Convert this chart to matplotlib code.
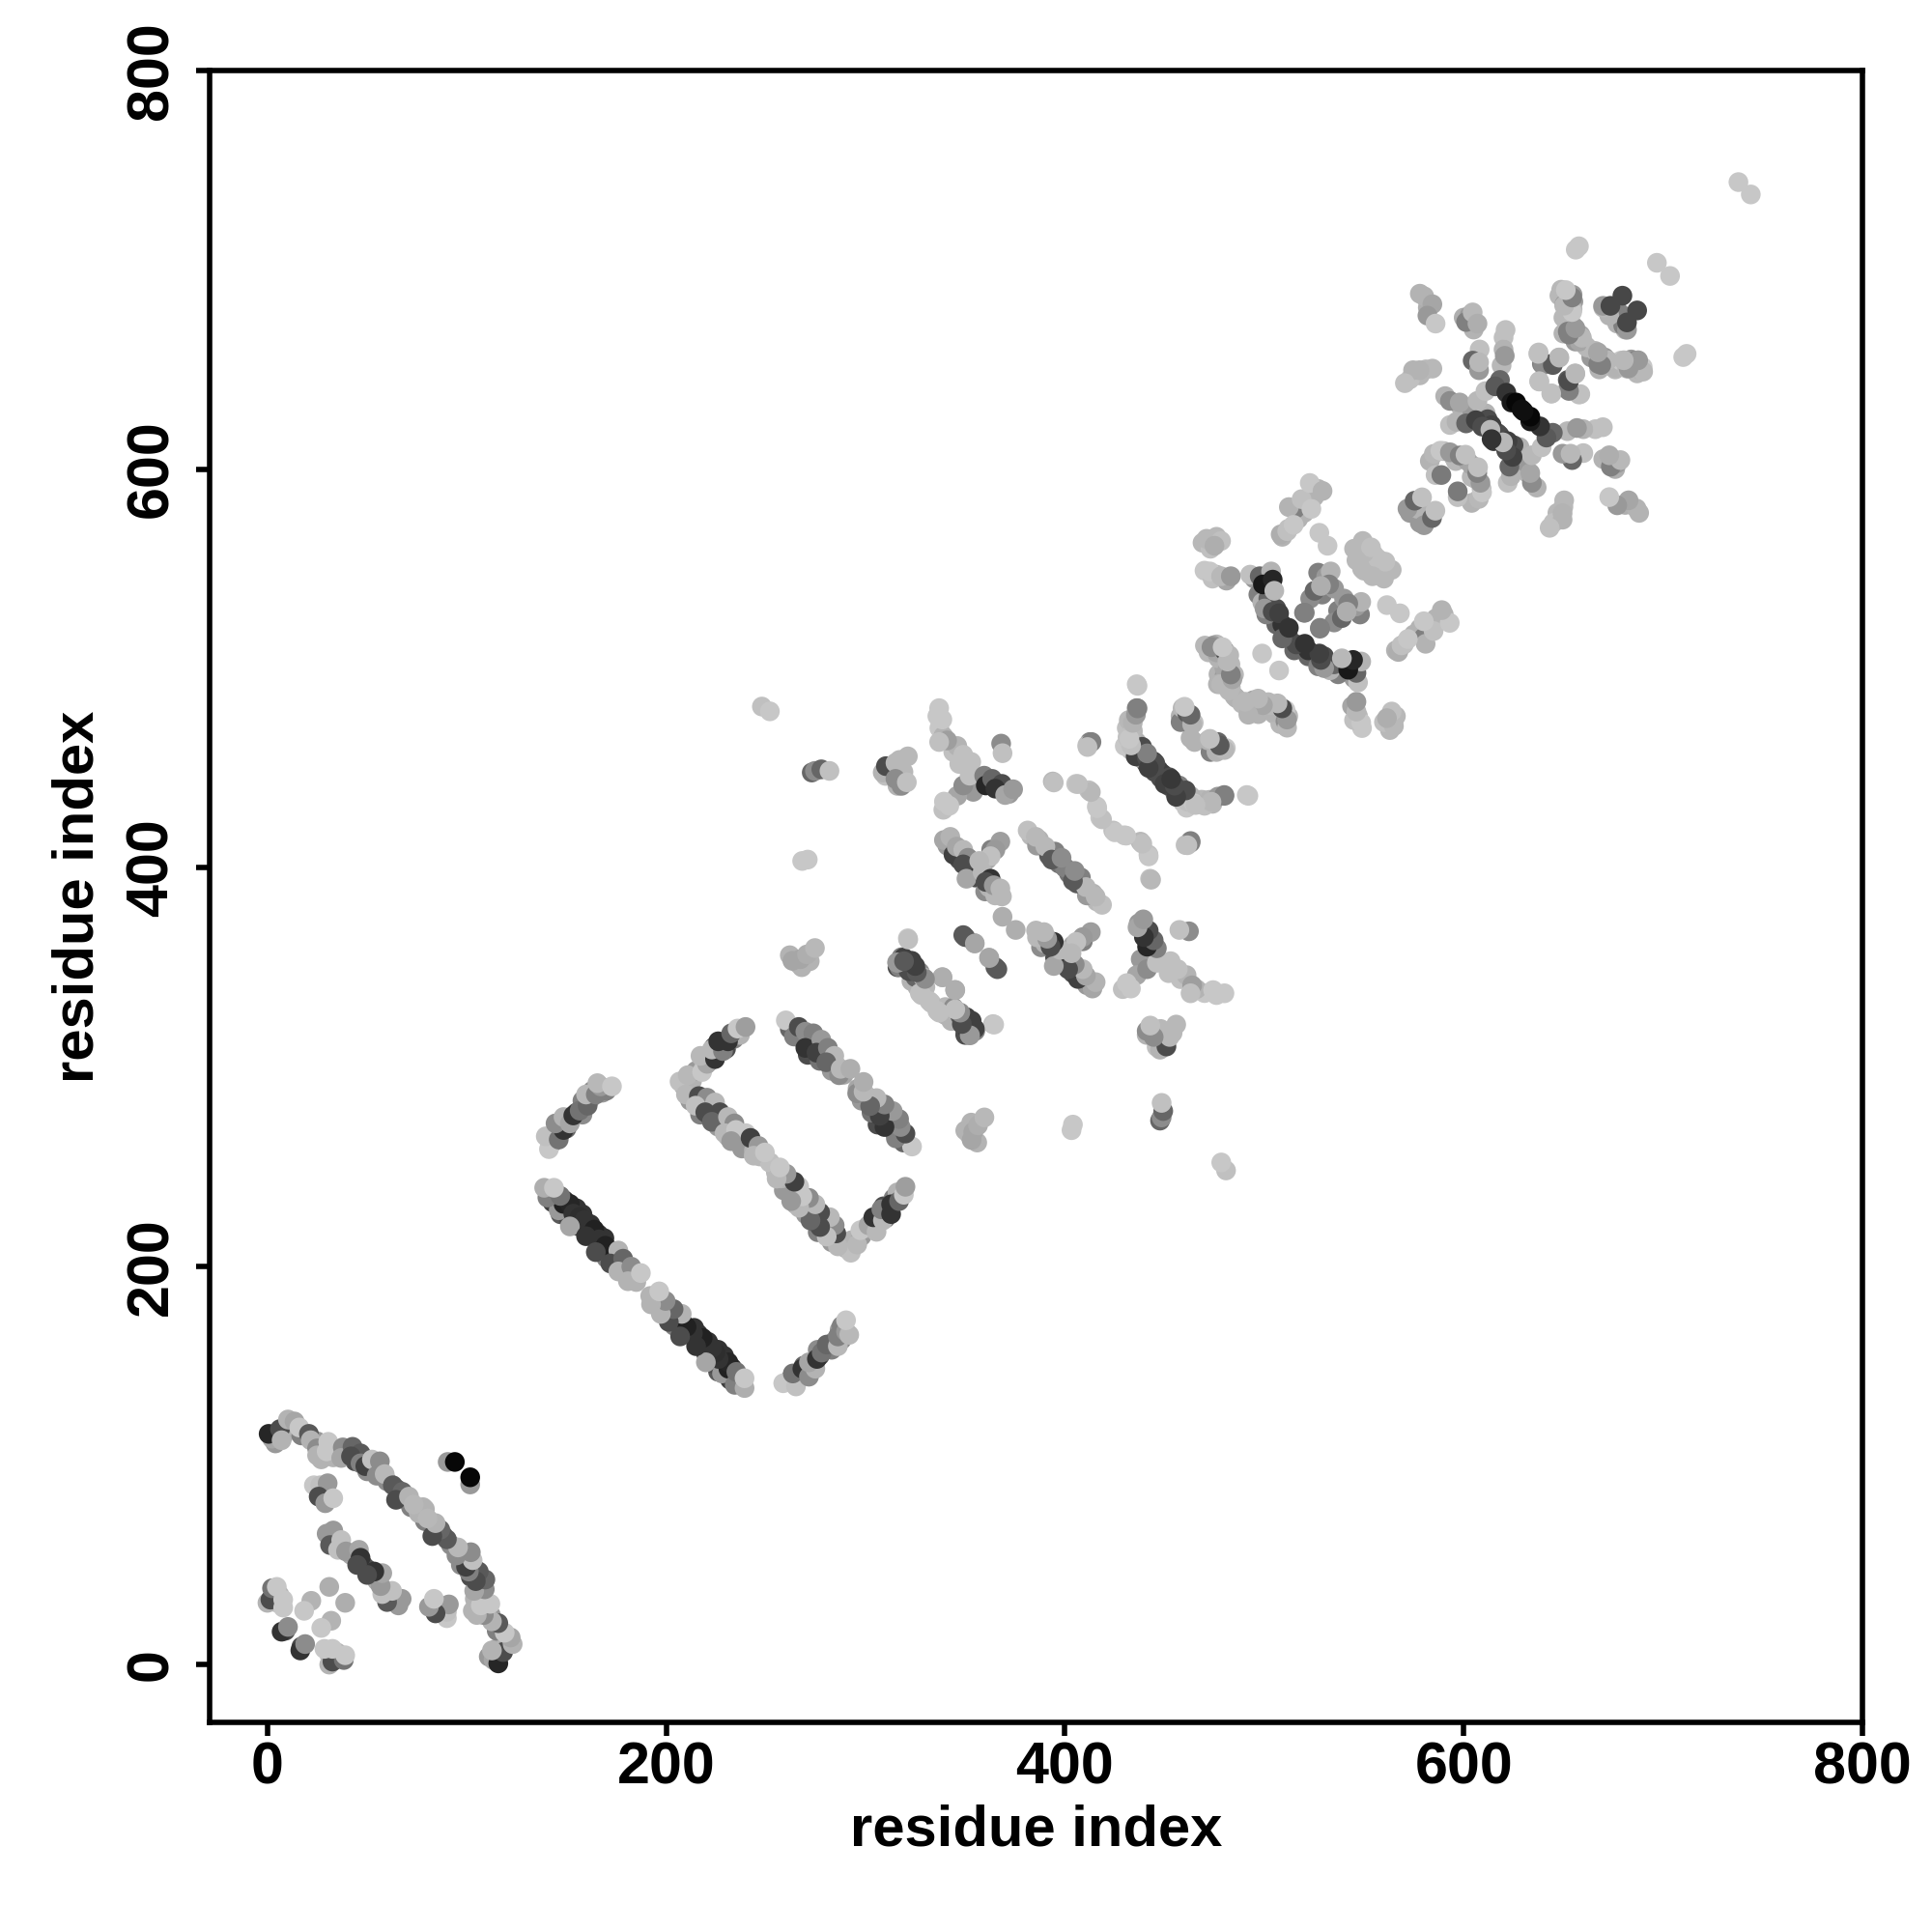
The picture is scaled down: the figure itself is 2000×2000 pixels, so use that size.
"""Residue contact map, drawn from the upper triangle and mirrored."""

import matplotlib

matplotlib.use("Agg")
import matplotlib.pyplot as plt  # noqa: E402

plt.rcParams["font.family"] = ["Liberation Sans", "DejaVu Sans"]

TICKS = [0, 200, 400, 600, 800]
AXIS_LABEL = "residue index"

# i < j contacts, shade is the grey level of the dot (0 black, 1 white)
n_term_i = [2.3, 0.6, 6.3, 7.1, 10.3, 13.6, 16, 20.8, 21.7, 24.9, 24.9, 30.5, 29.7, 37.8, 37, 42.7, 46.7, 41.9, 46.7,
            49.1, 52.4, 56.4, 54.8, 58.8, 62.9, 67.7, 64.5, 71, 73.4,
            23.3, 26.5, 30.2, 25.7, 29, 33,
            29.7, 33, 31.4, 37, 35.4, 39.4, 45.9, 46.7, 45,
            0, 1.5, 2.3, 4.7, 7.9, 7.9, 7.1, 10.3, 22, 18.4, 31, 90.4, 94]
n_term_j = [113.4, 115.8, 118.2, 112.6, 123, 122, 119, 115.8, 112.6, 108.5, 105, 111.8, 107, 109, 103.7, 109.3, 106,
            104.5, 101, 99.6, 102.9, 102, 94.8, 95.6, 90, 86.7, 82.7, 84.3, 80.3,
            90, 90, 91, 84.3, 81, 83.5,
            65.7, 67.3, 60, 62.5, 57.6, 56.8, 57.6, 53.6, 50,
            31, 32.6, 38.3, 39, 32.6, 28.6, 16.5, 18.9, 32, 27, 39, 101.7, 101.7]
n_term_shade = [0.65, 0.15, 0.3, 0.7, 0.7, 0.65, 0.78, 0.35, 0.7, 0.55, 0.7, 0.78, 0.78, 0.55, 0.65, 0.4, 0.35, 0.3,
                0.5, 0.25, 0.75, 0.55, 0.55, 0.72, 0.35, 0.4, 0.3, 0.7, 0.72,
                0.78, 0.75, 0.6, 0.3, 0.6, 0.78,
                0.6, 0.6, 0.35, 0.75, 0.75, 0.6, 0.65, 0.2, 0.3,
                0.7, 0.3, 0.45, 0.78, 0.78, 0.78, 0.2, 0.55, 0.7, 0.78, 0.68, 0.6, 0.03]

stripe_a_i = [146.1, 148.5, 151.7, 140.4, 146.9, 153.4, 156.6, 159, 151.7, 163.9, 159.8, 166.3, 169.5, 164.7, 176, 172,
              178.4, 176, 182.5, 180.8, 138.8, 143.7, 187.3]
stripe_a_j = [228, 231.2, 231.2, 234.4, 235.2, 226.3, 224.7, 223.1, 219.9, 218.3, 215, 213.4, 210.2, 207, 207.8,
              201.3, 203.7, 197.3, 199.7, 192.4, 239.3, 239.3, 196.5]
stripe_a_shade = [0.6, 0.13, 0.15, 0.5, 0.45, 0.2, 0.18, 0.2, 0.65, 0.13, 0.2, 0.2, 0.13, 0.3, 0.7, 0.3, 0.4, 0.7,
                  0.55, 0.7, 0.68, 0.78, 0.78]

stripe_b_i = [141.2, 139.6, 146.1, 148.5, 144.5, 148.5, 151.7, 153.4, 156.6, 160.6, 159.8, 164.7, 167.1, 165.5, 172.8]
stripe_b_j = [258.7, 265.1, 263.5, 268.3, 271.6, 274.8, 271.6, 275.6, 278, 280.5, 286.1, 286.1, 290.2, 291.8, 290.2]
stripe_b_shade = [0.78, 0.75, 0.45, 0.2, 0.55, 0.7, 0.65, 0.2, 0.45, 0.4, 0.72, 0.5, 0.6, 0.72, 0.78]

stripe_c_i = [206.7, 210.8, 218, 220.5, 217.2, 224.5, 222.9, 228.5, 226.1, 231, 232.6, 235.8, 239.8]
stripe_c_j = [292.6, 295.8, 297.4, 301.5, 305.5, 303.9, 308.7, 307.9, 312.8, 312.8, 316.8, 319.2, 320]
stripe_c_shade = [0.75, 0.72, 0.78, 0.65, 0.72, 0.2, 0.72, 0.5, 0.2, 0.2, 0.4, 0.78, 0.62]

stripe_d_i = [260, 264.1, 266.5, 269.8, 273.8, 269.8, 277.8, 275.4, 281.1, 284.3, 280.3, 286.7, 287.5, 292.4]
stripe_d_j = [323.3, 315.2, 320, 317.6, 316.8, 309.5, 313.6, 307.1, 309.5, 305.5, 302.3, 295.8, 299, 299]
stripe_d_shade = [0.78, 0.5, 0.3, 0.55, 0.5, 0.2, 0.6, 0.25, 0.5, 0.72, 0.4, 0.55, 0.72, 0.68]

stripe_e_i = [209.9, 216.4, 220.5, 214.8, 224.5, 219.6, 226.9, 222.9, 231, 234.2, 229.3, 235, 239.9, 232.6, 242.3,
              246.3, 243.9, 249.5]
stripe_e_j = [286.1, 285.3, 284.5, 280.5, 282.1, 277.2, 277.2, 272.4, 274.8, 271.6, 266.7, 268.3, 266.7, 262.7,
              264.3, 260.3, 255.4, 257]
stripe_e_shade = [0.72, 0.3, 0.55, 0.75, 0.72, 0.3, 0.3, 0.4, 0.72, 0.55, 0.72, 0.78, 0.78, 0.6, 0.25, 0.6, 0.72, 0.78]

middle_i = [248, 252, 273, 274.6, 277.8, 281.9, 308.6, 310.2, 315, 321.2, 315, 320.7, 268.2, 271, 263.3, 267.3, 270.6,
            274.6,
            336.9, 338.5, 340.9, 336.9, 349, 368, 368.7, 339.3, 349, 352.2, 359.5, 360.3, 363.5, 368.4, 365.1, 370, 374,
            393.9, 405.6, 412, 416, 417.7, 424.2, 429.8, 437.9, 441.9, 442.7, 463, 460.5, 412.5, 411.2,
            339.3, 342.5, 344.1, 345.7, 349, 351.4, 349, 367.6, 365.1, 362.7, 357, 350.6, 358.7, 362.7, 360.3, 364.3,
            367.6, 368.4,
            381.3, 385.4, 390.2, 393.4, 398.3, 368.7,
            321.2, 319.1, 323.1, 315.8, 321.5, 327.2, 328.8, 338.5, 344.9, 327.2, 336, 344.1, 347.4, 350.6, 352.2, 353,
            363.9, 349, 354.6, 365.1, 361.9]
middle_j = [480.8, 478.4, 447.7, 448.5, 449.3, 448.5, 447.7, 450.9, 452.5, 455.8, 444.5, 442.8, 403.3, 404, 353.2, 354,
            356.4, 359.6,
            480, 474.3, 463.8, 463, 456.6, 462.2, 457.4, 433.1, 441.2, 446.1, 446.1, 441.2, 444.5, 442, 439.6, 436.4,
            439.3,
            443.2, 442, 438.8, 430.7, 425, 418.6, 416.2, 413, 406.5, 394.4, 413.3, 411.3, 463, 461.4,
            413.8, 415.4, 406.5, 410.5, 408.9, 404.9, 401.6, 413, 408.9, 405.7, 403.3, 394.4, 397.6, 394.4, 392.8, 391.1,
            389.5, 385.5,
            418.6, 415.4, 410.5, 404, 404.9, 375.3,
            364.5, 354.8, 353.2, 352.4, 348.3, 347.5, 345, 345, 338.6, 337, 328.1, 329.8, 325.7, 324.9, 316, 319.3,
            321.4, 366.1, 362.1, 350, 354.8]
middle_shade = [0.75, 0.78, 0.4, 0.55, 0.4, 0.75, 0.7, 0.3, 0.72, 0.72, 0.55, 0.75, 0.78, 0.78, 0.65, 0.65, 0.68, 0.72,
                0.78, 0.78, 0.62, 0.75, 0.75, 0.55, 0.75, 0.78, 0.55, 0.75, 0.5, 0.15, 0.4, 0.3, 0.2, 0.65, 0.6,
                0.72, 0.78, 0.75, 0.78, 0.78, 0.75, 0.78, 0.72, 0.75, 0.75, 0.5, 0.75, 0.5, 0.75,
                0.65, 0.7, 0.25, 0.65, 0.72, 0.55, 0.3, 0.62, 0.6, 0.75, 0.72, 0.65, 0.72, 0.2, 0.3, 0.6, 0.72, 0.72,
                0.75, 0.72, 0.72, 0.35, 0.55, 0.68,
                0.78, 0.25, 0.25, 0.6, 0.3, 0.55, 0.75, 0.68, 0.68, 0.75, 0.75, 0.55, 0.35, 0.25, 0.6, 0.35,
                0.75, 0.35, 0.65, 0.35, 0.65]

upper_i = [436, 436, 433, 431.4, 438.7, 435.5, 441.1, 444.4, 452.4, 450, 457.3, 461.3, 464.6, 472.6, 476.7, 479.9, 491.2,
           459, 461.3, 464.6, 471.8, 476.7, 480.7,
           471.8, 478.3, 475, 472.7, 478.3, 483.2,
           492.9, 497.7, 503.4, 499.3, 504.2, 505, 500.1, 504.2, 507.4, 512.3, 519.9, 527.9,
           515.5, 512.3, 508.2, 511.5, 514.7, 518.7, 523.6, 522.8, 529.2, 527.6, 531.7,
           549.4, 553.5, 546.2, 533.3, 532.5, 525.2, 528.4,
           470.2, 474.3, 479.9, 482.4, 481.5, 484.8, 476.7, 483.2, 488.8, 492, 494.5, 496.9, 503.4, 510.6, 510.6, 510.6,
           498.9]
upper_j = [492, 480, 473.5, 465.5, 460.6, 455.8, 455, 453.3, 445.3, 442, 441.2, 433.2, 432.3, 434, 435.6, 436.4, 436.4,
           480, 477.6, 472.7, 463.8, 463, 460,
           564.7, 563.9, 561.5, 548.6, 546.2, 546.2,
           547, 546.2, 548.6, 542.1, 544.5, 538.9, 530, 528.4, 527.6, 520.3, 527.9, 520.3,
           580, 580.9, 567.2, 568.8, 572, 584.9, 580, 593, 589, 568, 561.5,
           563.9, 560.7, 554.2, 548.6, 542.1, 538.9, 541.3,
           511.4, 511.4, 509, 506.6, 499.3, 496.9, 492, 490.4, 482.3, 478.3, 484, 483.2, 481.5, 471, 473.5, 479.1,
           507.4]
upper_shade = [0.78, 0.5, 0.72, 0.75, 0.3, 0.25, 0.3, 0.22, 0.3, 0.25, 0.5, 0.75, 0.78, 0.7, 0.6, 0.5, 0.78,
               0.72, 0.35, 0.75, 0.7, 0.4, 0.78,
               0.72, 0.75, 0.68, 0.78, 0.72, 0.6,
               0.75, 0.4, 0.7, 0.1, 0.15, 0.72, 0.6, 0.3, 0.25, 0.2, 0.5, 0.5,
               0.5, 0.7, 0.68, 0.75, 0.78, 0.75, 0.78, 0.78, 0.7, 0.78, 0.78,
               0.72, 0.75, 0.72, 0.7, 0.5, 0.4, 0.68,
               0.72, 0.6, 0.3, 0.72, 0.65, 0.72, 0.7, 0.72, 0.72, 0.72, 0.65, 0.5, 0.72, 0.72, 0.55, 0.78,
               0.78]

c_term_i = [737.8, 656.2, 657.8, 696.9, 669.9, 673.6, 679.6, 648.9, 654.6, 650.5, 654.6, 654.6, 652.2, 658.6,
            665.9, 667.5, 670.7, 678.8, 682, 686.1, 689.8,
            580.2, 584.3, 581.8, 585.9, 601.2, 604.5, 606.9, 621,
            604.5, 607.7, 607.7, 619, 620.6, 637.6, 639.2, 644.1, 647.8, 637.9, 652.2, 652.2, 655.9, 644.1, 657.8,
            584.3, 577.8, 574.6, 570.5,
            590.7, 593.1, 598, 606.9, 610.9, 618.2, 615.8, 621.4, 623.9, 626.3, 629,
            593.1, 596.4, 601.2, 606.1, 609.3, 613.4, 615,
            585, 588.3, 593.1, 598, 600.9, 585.9, 588.8, 571.8, 575.4, 579.1]
c_term_j = [744, 710.1, 711.8, 703.5, 681.9, 681.9, 687, 690, 687.5, 682.7, 680.3, 672.2, 669, 667.3,
            659.3, 652.8, 656, 654.4, 650.4, 654.4, 651.2,
            686.7, 682.7, 677, 673, 673.8, 678.6, 673, 669.8,
            654.4, 649.6, 653.6, 652, 656.8, 658.5, 652.8, 652.8, 656, 643.9, 639.9, 644.7, 648, 637.9, 637.4,
            650.4, 649.6, 649.6, 643.1,
            636.6, 634.2, 633.4, 634.2, 639.1, 644.7, 641.5, 638.3, 633.4, 633.4, 630,
            622.1, 623.7, 622.9, 624.5, 621.3, 619.7, 614,
            607.6, 609.2, 608.4, 606.8, 607.2, 597, 597, 580.1, 584.1, 585.8]
c_term_shade = [0.78, 0.78, 0.78, 0.78, 0.6, 0.28, 0.28, 0.72, 0.6, 0.6, 0.72, 0.72, 0.5, 0.65,
                0.72, 0.5, 0.6, 0.78, 0.72, 0.5, 0.78,
                0.7, 0.65, 0.6, 0.78, 0.5, 0.72, 0.68, 0.75,
                0.4, 0.6, 0.72, 0.72, 0.6, 0.75, 0.5, 0.3, 0.72, 0.75, 0.55, 0.35, 0.72, 0.75, 0.75,
                0.72, 0.7, 0.7, 0.75,
                0.7, 0.55, 0.65, 0.72, 0.75, 0.4, 0.35, 0.2, 0.1, 0.03, 0.06,
                0.75, 0.7, 0.4, 0.25, 0.3, 0.72, 0.2,
                0.72, 0.78, 0.6, 0.5, 0.75, 0.75, 0.48, 0.6, 0.4, 0.75]

# dots that sit mostly hidden under the ones above: (i, j, shade)
under_n_term = [(4, 111, .6), (8, 115, .65), (12, 120, .7), (17, 115, .5), (25, 112, .6), (27, 103, .7), (33, 104, .7),
                (39, 106, .4), (44, 102, .3), (48, 104, .35), (50, 97, .55), (56, 98, .6), (60, 92, .55), (65, 88, .35),
                (69, 83, .3), (72, 79, .5), (76, 76, .7), (79, 78, .7), (27, 88, .7), (28, 85, .55), (33, 62, .4),
                (36, 61, .7), (42, 55, .65), (48, 50, .3), (3, 35, .6), (5, 31, .75), (4, 36, .4), (6, 35, .7),
                (9, 17, .3)]
under_stripes = [(143, 232, .25), (149, 233, .2), (147, 226, .35), (155, 229, .2), (151, 224, .3), (158, 226, .2),
                 (156, 220, .25), (162, 221, .2), (160, 218, .3), (166, 216, .2), (164, 214, .25), (169, 214, .2),
                 (168, 208, .3), (172, 208, .25), (170, 204, .5), (175, 204, .4), (179, 198, .6), (183, 195, .65),
                 (185, 192, .7),
                 (143, 262, .6), (147, 267, .5), (146, 270, .3), (150, 269, .4), (152, 274, .3), (155, 277, .3),
                 (158, 276, .55), (158, 283, .5), (162, 284, .6), (163, 288, .55), (168, 287, .6), (170, 288, .5),
                 (209, 290, .7), (213, 293, .7), (215, 298, .6), (219, 300, .7), (222, 303, .5), (225, 306, .3),
                 (224, 310, .35), (228, 311, .3), (230, 309, .3), (234, 314, .5), (235, 317, .6), (237, 316, .7),
                 (262, 319, .4), (266, 317, .3), (268, 314, .4), (272, 313, .4), (271, 306, .3), (275, 311, .4),
                 (279, 306, .4), (277, 303, .45), (282, 303, .5), (285, 301, .55), (289, 296, .65), (283, 298, .6),
                 (212, 283, .6), (218, 281, .3), (222, 280, .55), (217, 276, .5), (222, 275, .3), (226, 273, .4),
                 (228, 271, .5), (233, 269, .6), (226, 270, .6), (231, 265, .65), (236, 264, .5), (240, 261, .4),
                 (238, 259, .6), (244, 258, .7), (247, 255, .72), (252, 252, .75)]
under_middle = [(341, 411, .6), (347, 404, .3), (344, 410, .5), (352, 400, .4), (353, 397, .7), (355, 395, .3),
                (360, 388, .55), (362, 390, .7), (365, 386, .72), (363, 409, .5), (361, 404, .65), (354, 402, .72),
                (357, 398, .2), (383, 416, .72), (387, 414, .7), (386, 411, .6), (392, 406, .35), (395, 408, .5),
                (397, 402, .45), (400, 400, .5),
                (362, 442, .3), (366, 441, .25), (372, 437, .6), (355, 445, .7), (357, 442, .5), (354, 438, .6),
                (346, 436, .65), (339, 429, .75), (342, 431, .78), (336, 476, .78), (337, 470, .78), (339, 466, .7),
                (344, 458, .75), (347, 452, .75), (346, 461, .7), (353, 453, .75),
                (316, 350, .3), (319, 351, .2), (322, 349, .3), (325, 345, .55), (323, 343, .7), (330, 340, .72),
                (333, 332, .75), (340, 326, .7), (345, 325, .4), (348, 322, .3), (351, 320, .4), (353, 323, .3),
                (350, 317, .5), (355, 318, .5), (262, 356, .7), (266, 352, .7), (268, 350, .7), (272, 353, .7),
                (310, 446, .75), (312, 449, .7), (317, 454, .72), (319, 448, .72), (316, 441, .7), (318, 441, .55)]
under_upper = [(431, 470, .75), (434, 468, .72), (433, 462, .75), (436, 463, .7), (436, 458, .3), (439, 457, .25),
               (441, 452, .3), (447, 449, .25), (448, 445, .3), (453, 443, .35), (455, 438, .55), (459, 433, .75),
               (461, 430, .78), (469, 434, .72), (474, 432, .72), (458, 476, .7), (465, 463, .7), (473, 458, .5),
               (469, 563, .72), (473, 560, .75), (471, 565, .72), (476, 566, .72), (476, 547, .72), (481, 544, .65),
               (470, 549, .78), (474, 545, .75),
               (495, 545, .6), (501, 541, .3), (497, 537, .5), (499, 533, .7), (502, 535, .4), (506, 522, .4),
               (509, 522, .2), (501, 527, .5), (512, 516, .3), (506, 530, .3), (515, 509, .4),
               (520, 578, .7), (517, 575, .7), (512, 570, .75), (509, 566, .7), (520, 584, .72), (525, 586, .7),
               (527, 590, .7),
               (545, 560, .72), (551, 556, .72), (549, 550, .72), (555, 557, .75), (558, 550, .72), (527, 548, .5),
               (529, 537, .5), (531, 546, .6), (523, 535, .55), (535, 540, .6),
               (472, 508, .72), (478, 505, .7), (477, 497, .7), (483, 502, .72), (486, 485, .7), (491, 482, .7),
               (496, 480, .6), (500, 480, .65), (505, 477, .7), (508, 476, .65), (512, 476, .72)]
under_c_term = [(578, 688, .7), (582, 681, .68), (600, 676, .68), (603, 677, .6), (605, 670, .7), (650, 688, .7),
                (652, 685, .6), (651, 676, .7), (656, 664, .6), (661, 662, .72), (664, 658, .65), (668, 650, .7),
                (672, 652, .72), (676, 650, .72), (684, 655, .6), (687, 648, .72), (672, 680, .5), (680, 677, .5),
                (677, 673, .7), (681, 670, .72),
                (578, 647, .72), (581, 650, .72), (573, 645, .75), (608, 660, .75), (620, 666, .75), (620, 660, .7),
                (598, 632, .7), (604, 630, .6), (611, 628, .7), (612, 625, .3), (617, 618, .3), (614, 622, .25),
                (590, 609, .72), (595, 606, .72), (596, 604, .72), (602, 604, .65), (583, 604, .7),
                (577, 582, .7), (573, 578, .6), (580, 577, .7)]

REGIONS = [
    (n_term_i, n_term_j, n_term_shade),
    (stripe_a_i, stripe_a_j, stripe_a_shade),
    (stripe_b_i, stripe_b_j, stripe_b_shade),
    (stripe_c_i, stripe_c_j, stripe_c_shade),
    (stripe_d_i, stripe_d_j, stripe_d_shade),
    (stripe_e_i, stripe_e_j, stripe_e_shade),
    (middle_i, middle_j, middle_shade),
    (upper_i, upper_j, upper_shade),
    (c_term_i, c_term_j, c_term_shade),
]
UNDER = [under_n_term, under_stripes, under_middle, under_upper, under_c_term]


def _mirrored(ax, i, j, shade):
    ax.scatter(i + j, j + i, c=shade + shade, cmap="gray", vmin=0, vmax=1, s=54, linewidths=0)


def main() -> None:
    fig = plt.figure(figsize=(10, 10), dpi=200)
    ax = fig.add_axes([217 / 2000, 217 / 2000, 1711 / 2000, 1710 / 2000])

    for pts in UNDER:
        i, j, shade = (list(col) for col in zip(*pts, strict=True))
        _mirrored(ax, i, j, shade)
    for i, j, shade in REGIONS:
        _mirrored(ax, i, j, shade)

    ax.set_xlim(-29, 800)
    ax.set_ylim(-29, 800)
    ax.set_xticks(TICKS)
    ax.set_yticks(TICKS)
    ax.tick_params(width=2.0, length=5, labelsize=22)
    ax.tick_params(axis="x", pad=2)
    ax.tick_params(axis="y", pad=6)
    for lab in ax.get_xticklabels() + ax.get_yticklabels():
        lab.set_fontweight("bold")
    for lab in ax.get_yticklabels():
        lab.set_rotation(90)
        lab.set_va("center")
    ax.set_xlabel(AXIS_LABEL, fontsize=21.5, fontweight="bold", labelpad=3)
    ax.set_ylabel(AXIS_LABEL, fontsize=21.5, fontweight="bold", labelpad=7.5)
    for side in ax.spines.values():
        side.set_linewidth(2.0)

    fig.savefig("out.png", dpi=200)
    plt.close(fig)


if __name__ == "__main__":
    main()
